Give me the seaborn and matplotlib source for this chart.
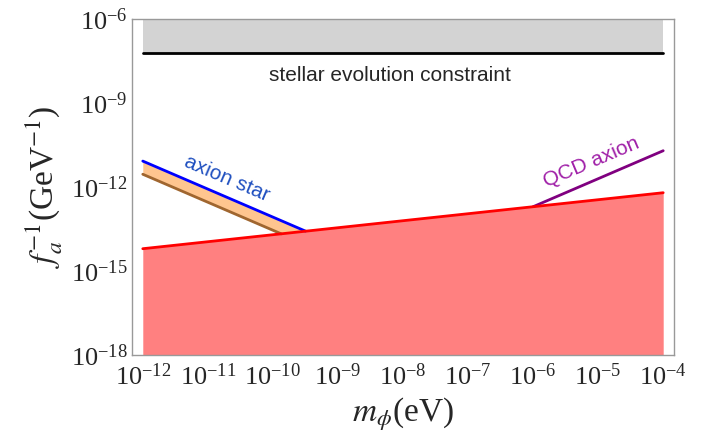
import numpy as np
import pandas as pd
import seaborn as sns
import matplotlib.pyplot as plt

# masses (eV) and couplings f_a^-1 (GeV^-1)
m_edges = [1e-12, 1e-4]
red_f = [10**-14.2, 10**-12.2]          # upper edge of red excluded region
stellar_f = 6e-8                         # stellar evolution bound
star_m = [1e-12, 10**-9.5]
star_blue_f = [10**-11.07, 10**-13.57]
star_brown_m = [1e-12, 10**-9.87]
star_brown_f = [10**-11.54, 10**-13.67]
qcd_m = [1e-6, 1e-4]
qcd_f = [10**-12.7, 10**-10.7]

xticks = [10.0**k for k in range(-12, -3)]
yticks = [10.0**k for k in range(-18, -5, 3)]

sns.set_style('white')
plt.rcParams['font.family'] = ['Liberation Serif', 'DejaVu Serif']
plt.rcParams['mathtext.fontset'] = 'stix'

fig, ax = plt.subplots(figsize=(7.12, 4.45), dpi=100)
fig.subplots_adjust(left=0.185, right=0.947, top=0.957, bottom=0.202)
ax.set_xscale('log')
ax.set_yscale('log')

# helper: straight lines in log-log
def loglin(x, xs, ys):
    return 10**np.interp(np.log10(x), np.log10(xs), np.log10(ys))

grid = np.logspace(-12, -4, 400)
red_line = loglin(grid, m_edges, red_f)

# stellar constraint band
ax.fill_between(m_edges, [stellar_f]*2, [1e-6]*2, color='#d3d3d3', lw=0)
sns.lineplot(x=m_edges, y=[stellar_f]*2, color='black', lw=2, ax=ax)

# red excluded region
ax.fill_between(grid, 1e-18, red_line, color='#ff8080', lw=0)

# axion star band
g2 = np.logspace(-12, np.log10(star_m[1]), 200)
up = loglin(g2, star_m, star_blue_f)
lo = np.maximum(loglin(g2, star_brown_m, star_brown_f), loglin(g2, m_edges, red_f))
ax.fill_between(g2, lo, up, where=up >= lo, color='#ffc58f', lw=0)
sns.lineplot(x=star_brown_m, y=star_brown_f, color='#a0662f', lw=2, ax=ax)
sns.lineplot(x=star_m, y=star_blue_f, color='#0000ff', lw=2, ax=ax)

# QCD axion line
sns.lineplot(x=qcd_m, y=qcd_f, color='#800080', lw=2, ax=ax)

sns.lineplot(x=m_edges, y=red_f, color='#ff0000', lw=2, ax=ax)

ax.text(10**-8.2, 10**-8.0, 'stellar evolution constraint', family='Liberation Sans',
        fontsize=15, ha='center', va='center')
ax.text(10**-10.7, 10**-11.68, 'axion star', family='Liberation Sans', fontsize=15,
        color='#2050c0', rotation=-23, ha='center', va='center')
ax.text(10**-5.1, 10**-11.1, 'QCD axion', family='Liberation Sans', fontsize=15,
        color='#a020a8', rotation=23, ha='center', va='center')

ax.set_xlim(10**-12.17, 10**-3.83)
ax.set_ylim(1e-18, 1e-6)
ax.set_xticks(xticks)
ax.set_yticks(yticks)
ax.xaxis.set_minor_locator(plt.NullLocator())
ax.yaxis.set_minor_locator(plt.NullLocator())
ax.tick_params(direction='in', length=4, color='#888888', labelsize=19, pad=3)
ax.tick_params(axis='x', pad=6)
for s in ax.spines.values():
    s.set_color('#999999')
    s.set_linewidth(1)

ax.set_xlabel(r'$m_\phi$(eV)', fontsize=24, labelpad=4)
ax.set_ylabel(r'$f_a^{-1}$(GeV$^{-1}$)', fontsize=24, labelpad=4)

fig.savefig('out.png', dpi=100)
